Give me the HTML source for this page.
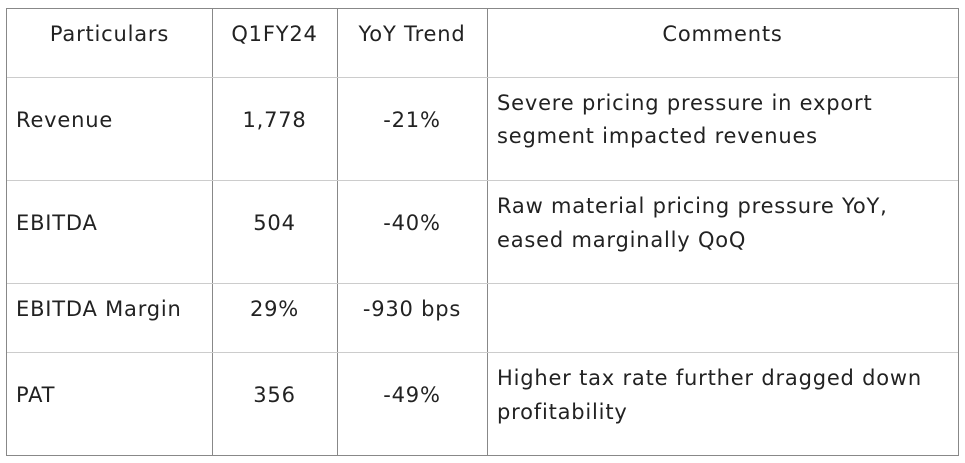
<!DOCTYPE html>
<html><head><style>
body{margin:0;width:965px;height:463px;background:#fff;position:relative;font-family:"DejaVu Sans",sans-serif;color:#222;font-size:21px;letter-spacing:0.8px;overflow:hidden}
.l{position:absolute;background:#888}
.h{position:absolute;background:#ccc;height:1px}
.t{position:absolute;line-height:22px;white-space:nowrap;transform:translateY(-50%)}
.c{text-align:center}
</style></head><body>
<div class="l" style="left:6px;top:8px;width:953px;height:1px"></div>
<div class="l" style="left:6px;top:455px;width:953px;height:1px"></div>
<div class="l" style="left:6px;top:8px;width:1px;height:448px"></div>
<div class="l" style="left:958px;top:8px;width:1px;height:448px"></div>
<div class="l" style="left:212px;top:8px;width:1px;height:448px"></div>
<div class="l" style="left:337px;top:8px;width:1px;height:448px"></div>
<div class="l" style="left:487px;top:8px;width:1px;height:448px"></div>
<div class="h" style="left:7px;top:77px;width:951px"></div>
<div class="h" style="left:7px;top:180px;width:951px"></div>
<div class="h" style="left:7px;top:283px;width:951px"></div>
<div class="h" style="left:7px;top:352px;width:951px"></div>

<div class="t c" style="left:7px;width:205px;top:34px">Particulars</div>
<div class="t c" style="left:212px;width:125px;top:34px">Q1FY24</div>
<div class="t c" style="left:337px;width:150px;top:34px">YoY Trend</div>
<div class="t c" style="left:487px;width:471px;top:34px">Comments</div>

<div class="t" style="left:16px;top:120px">Revenue</div>
<div class="t c" style="left:212px;width:125px;top:120px">1,778</div>
<div class="t c" style="left:337px;width:150px;top:120px">-21%</div>
<div class="t" style="left:497px;top:103px">Severe pricing pressure in export</div>
<div class="t" style="left:497px;top:136px">segment impacted revenues</div>

<div class="t" style="left:16px;top:223px">EBITDA</div>
<div class="t c" style="left:212px;width:125px;top:223px">504</div>
<div class="t c" style="left:337px;width:150px;top:223px">-40%</div>
<div class="t" style="left:497px;top:206px">Raw material pricing pressure YoY,</div>
<div class="t" style="left:497px;top:240px">eased marginally QoQ</div>

<div class="t" style="left:16px;top:309px">EBITDA Margin</div>
<div class="t c" style="left:212px;width:125px;top:309px">29%</div>
<div class="t c" style="left:337px;width:150px;top:309px">-930 bps</div>

<div class="t" style="left:16px;top:395px">PAT</div>
<div class="t c" style="left:212px;width:125px;top:395px">356</div>
<div class="t c" style="left:337px;width:150px;top:395px">-49%</div>
<div class="t" style="left:497px;top:378px">Higher tax rate further dragged down</div>
<div class="t" style="left:497px;top:412px">profitability</div>
</body></html>
